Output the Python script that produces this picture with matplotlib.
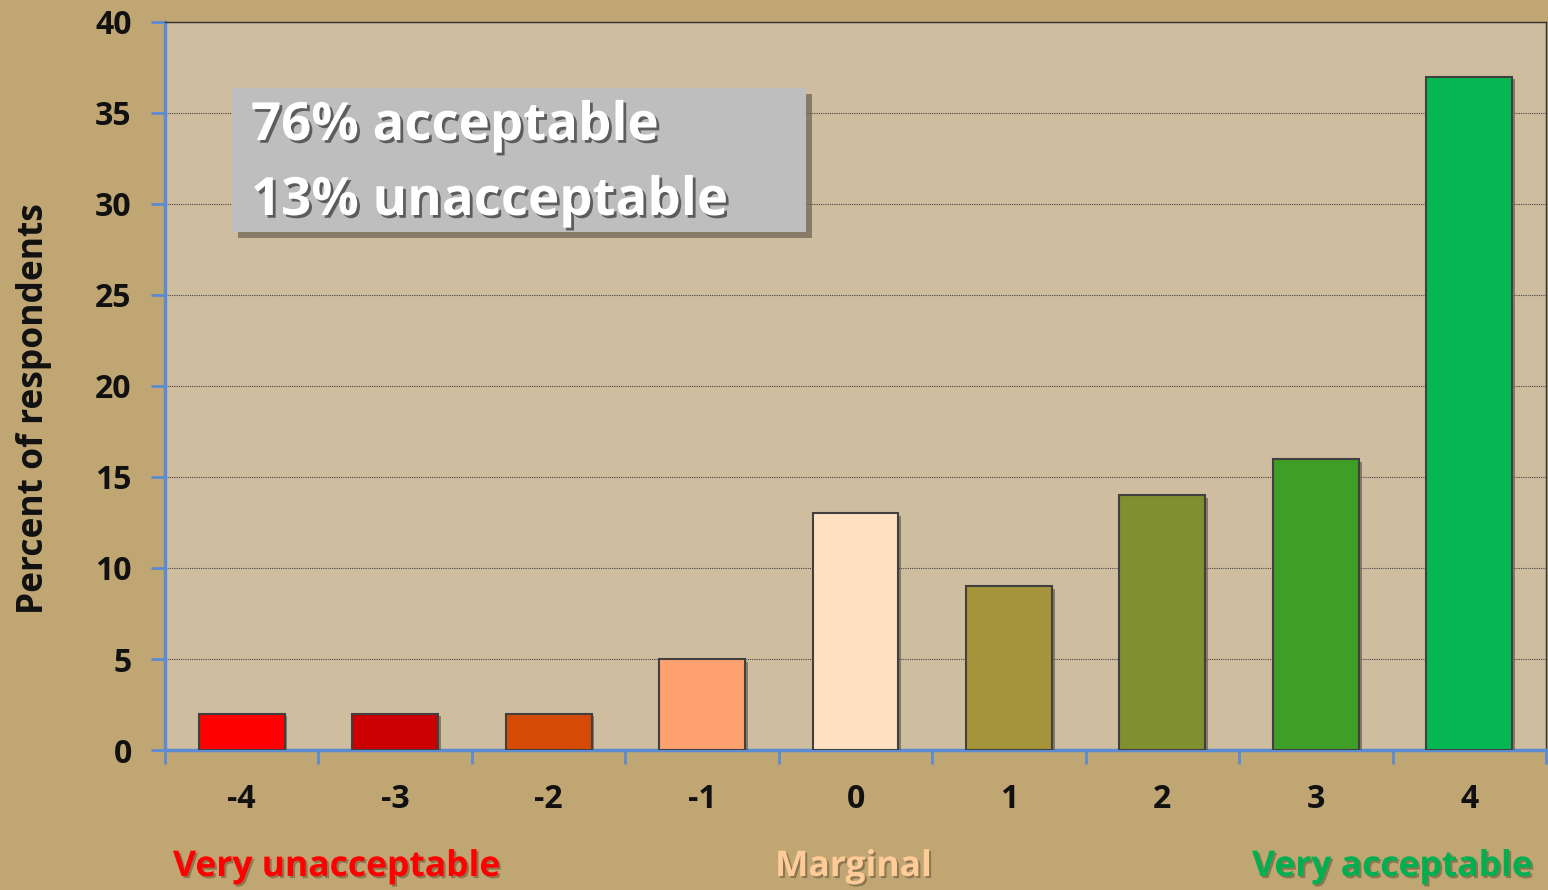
import matplotlib.pyplot as plt
import matplotlib.patheffects as pe
from matplotlib.patches import FancyBboxPatch

# ratings on the acceptability scale
ratings = [-4, -3, -2, -1, 0, 1, 2, 3, 4]
percent = [2, 2, 2, 5, 13, 9, 14, 16, 37]
bar_colors = ["#FF0000", "#CC0000", "#D54B05", "#FFA270", "#FFE1C1",
              "#A6943A", "#808F30", "#3F9E25", "#05B853"]
yticks = [0, 5, 10, 15, 20, 25, 30, 35, 40]

plt.rcParams["font.family"] = ["Open Sans", "DejaVu Sans"]
plt.rcParams["font.weight"] = "bold"
plt.rcParams["axes.unicode_minus"] = False

fig = plt.figure(figsize=(15.48, 8.9), dpi=100, facecolor="#C0A673")
ax = fig.add_axes([0.1066, 0.1573, 0.8921, 0.818])
ax.set_facecolor("#CFBDA0")

shadow = [pe.SimplePatchShadow(offset=(2, -2), shadow_rgbFace="#5a5040", alpha=0.6), pe.Normal()]
bars = ax.bar(ratings, percent, width=0.56, color=bar_colors,
              edgecolor="#404040", linewidth=1.5, zorder=3)
for b in bars:
    b.set_path_effects(shadow)

ax.set_xlim(-4.5, 4.5)
ax.set_ylim(0, 40)
ax.set_yticks(yticks)
ax.set_xticks(ratings)
ax.set_xticks([r + 0.5 for r in ratings] + [-4.5], minor=True)
ax.tick_params(axis="x", which="major", length=0, pad=24, labelsize=23)
ax.tick_params(axis="x", which="minor", length=10, width=2, color="#5B8BD0", direction="out")
ax.tick_params(axis="y", length=10, width=2, color="#5B8BD0", labelsize=23, pad=14)
ax.set_xticklabels([str(r) for r in ratings], fontweight="bold", color="#111111")
ax.set_yticklabels([str(t) for t in yticks], fontweight="bold", color="#111111")

ax.yaxis.grid(True, linestyle=(0, (1, 1)), color="#444444", linewidth=0.8, zorder=1)
ax.set_axisbelow(True)
for s in ["left", "bottom"]:
    ax.spines[s].set_color("#5B8BD0")
    ax.spines[s].set_linewidth(2.5)
for s in ["top", "right"]:
    ax.spines[s].set_color("#333333")
    ax.spines[s].set_linewidth(1)

ax.set_ylabel("Percent of respondents", fontsize=25.5, fontweight="bold", color="#111111")
ax.yaxis.set_label_coords(-0.082, 0.469)

# summary box
box = FancyBboxPatch((232 / 1548, 1 - 232 / 890), (806 - 232) / 1548, (232 - 88) / 890,
                     boxstyle="square,pad=0", transform=fig.transFigure,
                     facecolor="#BEBEBE", edgecolor="none", zorder=5)
box.set_path_effects([pe.SimplePatchShadow(offset=(4, -4), shadow_rgbFace="#6b6050", alpha=0.7), pe.Normal()])
fig.patches.append(box)

txt_shadow = [pe.withSimplePatchShadow(offset=(2, -2), shadow_rgbFace="#333333", alpha=0.7)]
lbl_shadow = [pe.withSimplePatchShadow(offset=(1.5, -1.5), shadow_rgbFace="#5a4a30", alpha=0.5)]
for y, s in [(126, "76% acceptable"), (201, "13% unacceptable")]:
    fig.text(251 / 1548, 1 - y / 890, s, fontsize=38, fontweight="bold", color="white",
             va="center", ha="left", zorder=6, path_effects=txt_shadow)

# scale end labels
for x, s, c in [(173, "Very unacceptable", "#FF0000"),
                (775, "Marginal", "#FFCC99"),
                (1252, "Very acceptable", "#00B050")]:
    fig.text(x / 1548, 1 - 867 / 890, s, fontsize=25.5, fontweight="bold", color=c,
             va="center", ha="left", path_effects=lbl_shadow)

fig.savefig("out.png", dpi=100, facecolor=fig.get_facecolor())
